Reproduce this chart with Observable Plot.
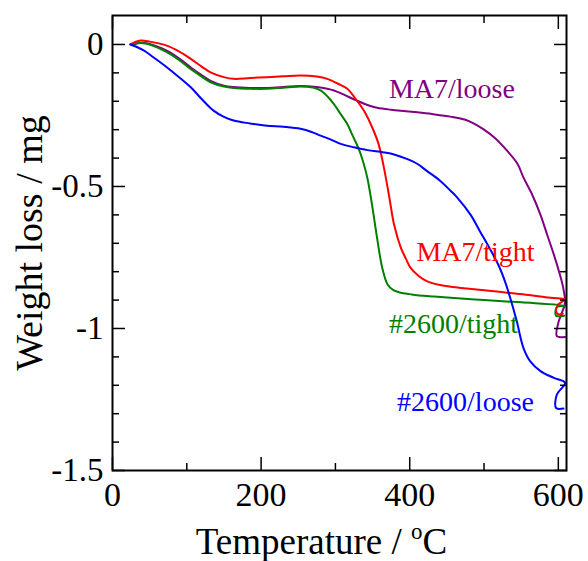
<!DOCTYPE html>
<html><head><meta charset="utf-8">
<script src="https://cdn.jsdelivr.net/npm/d3@7"></script>
<script src="https://cdn.jsdelivr.net/npm/@observablehq/plot@0.6"></script>
<style>body{margin:0;background:#fff} #chart svg{display:block}</style>
</head><body><div id="chart"></div>
<script>
const seriesNames = ["MA7/loose", "#2600/tight", "MA7/tight", "#2600/loose"];
const seriesColors = ["#800080", "#008000", "#ff0000", "#0000ff"];

const ma7LooseT = [28, 38, 50, 73, 90, 105, 120, 132, 150, 163, 185, 208, 230, 253, 275, 289, 298, 310, 329, 345, 356, 375, 395, 410, 430, 455, 475, 486, 500, 515, 531, 545, 553, 565, 576, 585, 594, 601, 606, 609, 604, 600, 598, 609];
const ma7LooseW = [0, 0.006, 0.002, -0.022, -0.05, -0.08, -0.108, -0.128, -0.145, -0.15, -0.153, -0.153, -0.15, -0.146, -0.15, -0.156, -0.162, -0.175, -0.198, -0.215, -0.223, -0.23, -0.235, -0.239, -0.245, -0.254, -0.265, -0.278, -0.3, -0.33, -0.374, -0.42, -0.468, -0.53, -0.6, -0.67, -0.74, -0.8, -0.85, -0.91, -0.95, -0.98, -1.027, -1.03];

const t2600TightT = [28, 33, 38, 50, 73, 90, 105, 120, 132, 150, 163, 185, 208, 230, 253, 270, 280, 290, 298, 307, 316, 323, 331, 337, 343, 349, 356, 363, 370, 378, 388, 400, 410, 430, 455, 500, 550, 609, 598, 597, 608];
const t2600TightW = [0, 0.004, 0.005, 0, -0.027, -0.055, -0.086, -0.113, -0.133, -0.148, -0.153, -0.156, -0.156, -0.152, -0.148, -0.152, -0.162, -0.185, -0.21, -0.245, -0.28, -0.32, -0.365, -0.41, -0.47, -0.56, -0.68, -0.786, -0.844, -0.865, -0.874, -0.879, -0.883, -0.887, -0.892, -0.9, -0.908, -0.92, -0.925, -0.955, -0.955];

const ma7TightT = [24, 30, 38, 50, 73, 90, 105, 120, 132, 150, 163, 185, 208, 230, 253, 275, 289, 305, 316, 329, 340, 350, 358, 365, 372, 379, 388, 395, 401, 412, 423, 441, 455, 480, 510, 531, 560, 590, 609, 600, 597, 600, 606];
const ma7TightW = [0, 0.008, 0.014, 0.01, -0.004, -0.025, -0.05, -0.078, -0.098, -0.115, -0.121, -0.118, -0.115, -0.112, -0.109, -0.113, -0.121, -0.14, -0.156, -0.198, -0.24, -0.295, -0.35, -0.43, -0.53, -0.635, -0.715, -0.755, -0.786, -0.815, -0.833, -0.847, -0.853, -0.86, -0.868, -0.874, -0.882, -0.892, -0.898, -0.915, -0.94, -0.95, -0.948];

const t2600LooseT = [24, 32, 42, 55, 73, 90, 105, 120, 136, 150, 163, 185, 208, 230, 253, 268, 280, 294, 307, 325, 343, 365, 380, 396, 410, 423, 440, 455, 464, 482, 495, 508, 520, 529, 535, 544, 553, 562, 576, 594, 609, 598, 597, 607];
const t2600LooseW = [0, -0.008, -0.021, -0.045, -0.08, -0.116, -0.15, -0.192, -0.233, -0.255, -0.268, -0.278, -0.286, -0.29, -0.297, -0.308, -0.321, -0.335, -0.35, -0.362, -0.372, -0.38, -0.388, -0.403, -0.42, -0.445, -0.478, -0.515, -0.539, -0.6, -0.66, -0.72, -0.78, -0.84, -0.89, -0.974, -1.068, -1.115, -1.15, -1.174, -1.191, -1.233, -1.28, -1.282];

const xMajorTicks = [0, 200, 400, 600];
const xMinorTicks = [100, 300, 500];
const yMajorTicks = [0, -0.5, -1, -1.5];
const yMinorTicks = [-0.1, -0.2, -0.3, -0.4, -0.6, -0.7, -0.8, -0.9, -1.1, -1.2, -1.3, -1.4];

const labelNames = ["MA7/loose", "MA7/tight", "#2600/tight", "#2600/loose"];
const labelColors = ["#800080", "#ff0000", "#008000", "#0000ff"];
const labelT = [372, 409, 372, 383];
const labelW = [-0.188, -0.762, -1.015, -1.289];

const seriesT = [ma7LooseT, t2600TightT, ma7TightT, t2600LooseT];
const seriesW = [ma7LooseW, t2600TightW, ma7TightW, t2600LooseW];
const rows = [];
seriesNames.forEach((name, s) => {
  seriesT[s].forEach((t, i) => rows.push({series: name, T: t, W: seriesW[s][i]}));
});
const labels = labelNames.map((n, i) => ({name: n, T: labelT[i], W: labelW[i], color: labelColors[i]}));

const fmt = d => String(d);
const blank = () => "";

const plot = Plot.plot({
  width: 588,
  height: 561,
  marginLeft: 112,
  marginRight: 22,
  marginTop: 15,
  marginBottom: 91,
  style: {fontFamily: "'Liberation Serif', 'Times New Roman', serif", color: "#000", background: "#fff"},
  x: {domain: [0, 611]},
  y: {domain: [-1.5, 0.102]},
  color: {domain: seriesNames, range: seriesColors},
  marks: [
    Plot.line(rows, {x: "T", y: "W", z: "series", stroke: "series", strokeWidth: 2, curve: "catmull-rom"}),
    Plot.text(labels, {x: "T", y: "W", text: "name", fill: "color", textAnchor: "start", lineAnchor: "bottom", fontSize: 28}),
    // labelled axes
    Plot.axisX(xMajorTicks, {anchor: "bottom", tickSize: 0, tickPadding: 11, fontSize: 34, tickFormat: fmt, label: null}),
    Plot.axisY(yMajorTicks, {anchor: "left", tickSize: 0, tickPadding: 9, fontSize: 33, tickFormat: fmt, label: null}),
    // inward ticks on all sides
    Plot.axisX(xMajorTicks, {anchor: "bottom", tickSize: -13, strokeWidth: 1.5, tickFormat: blank, label: null}),
    Plot.axisX(xMinorTicks, {anchor: "bottom", tickSize: -7, strokeWidth: 1.5, tickFormat: blank, label: null}),
    Plot.axisX(xMajorTicks, {anchor: "top", tickSize: -13, strokeWidth: 1.5, tickFormat: blank, label: null}),
    Plot.axisX(xMinorTicks, {anchor: "top", tickSize: -7, strokeWidth: 1.5, tickFormat: blank, label: null}),
    Plot.axisY(yMajorTicks, {anchor: "left", tickSize: -13, strokeWidth: 1.5, tickFormat: blank, label: null}),
    Plot.axisY(yMinorTicks, {anchor: "left", tickSize: -7, strokeWidth: 1.5, tickFormat: blank, label: null}),
    Plot.axisY(yMajorTicks, {anchor: "right", tickSize: -13, strokeWidth: 1.5, tickFormat: blank, label: null}),
    Plot.axisY(yMinorTicks, {anchor: "right", tickSize: -7, strokeWidth: 1.5, tickFormat: blank, label: null}),
    Plot.frame({stroke: "#000", strokeWidth: 2}),
    // axis titles
    Plot.text(["Temperature / oC"], {frameAnchor: "bottom", textAnchor: "middle", dx: -18, dy: 83, lineAnchor: "bottom", fontSize: 37, fill: "#000"}),
    Plot.text(["Weight loss / mg"], {frameAnchor: "left", textAnchor: "middle", dx: -71, rotate: -90, lineAnchor: "bottom", fontSize: 38, fill: "#000"})
  ]
});

// superscript "o" in the temperature unit
d3.select(plot).selectAll("text").filter(function() { return this.textContent === "Temperature / oC"; })
  .each(function() {
    const t = d3.select(this);
    t.text(null);
    t.append("tspan").text("Temperature / ");
    t.append("tspan").attr("font-size", "0.62em").attr("dy", "-0.62em").text("o");
    t.append("tspan").attr("dy", "0.385em").text("C");
  });

document.getElementById("chart").appendChild(plot);
</script>
</body></html>
